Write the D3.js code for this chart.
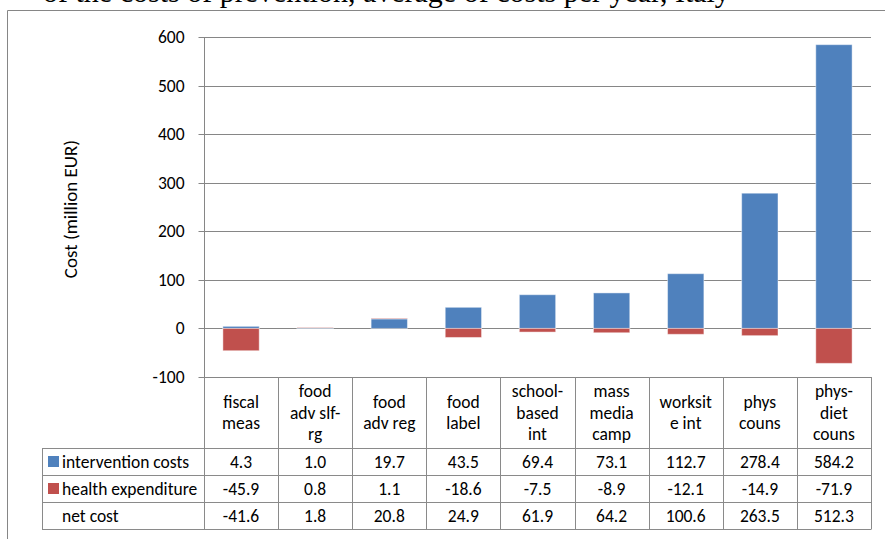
<!DOCTYPE html>
<html>
<head>
<meta charset="utf-8">
<script src="https://cdn.jsdelivr.net/npm/d3@7"></script>
<style>
  html, body { margin: 0; padding: 0; background: #fff; }
  svg { display: block; }
</style>
</head>
<body>
<svg id="chart" width="885" height="539"></svg>
<script>
// Interventions (header cells are split over several lines)
const categoryLines = [
  ["fiscal", "meas"],
  ["food", "adv slf-", "rg"],
  ["food", "adv reg"],
  ["food", "label"],
  ["school-", "based", "int"],
  ["mass", "media", "camp"],
  ["worksit", "e int"],
  ["phys", "couns"],
  ["phys-", "diet", "couns"]
];
const categories = categoryLines.map(l => l.join(" "));

// Average annual costs, million EUR
const interventionCosts = [4.3, 1.0, 19.7, 43.5, 69.4, 73.1, 112.7, 278.4, 584.2];
const healthExpenditure = [-45.9, 0.8, 1.1, -18.6, -7.5, -8.9, -12.1, -14.9, -71.9];
const netCost = [-41.6, 1.8, 20.8, 24.9, 61.9, 64.2, 100.6, 263.5, 512.3];

const seriesNames = ["intervention costs", "health expenditure", "net cost"];
const seriesColors = ["#4F81BD", "#C0504D", null];
const yTicks = [-100, 0, 100, 200, 300, 400, 500, 600];

const titleText = "of the costs of prevention, average of costs per year, Italy";
const yTitle = "Cost (million EUR)";

const FONT = "Carlito, Calibri, Lato, sans-serif";
const FS = 17.5;
const GRID = "#868686";
const BORDER = "#8a8a8a";

// plain hyphen for negative numbers
const locale = d3.formatLocale({ decimal: ".", thousands: ",", grouping: [3], currency: ["", ""], minus: "-" });
const fmtInt = locale.format("d");
const fmt1 = locale.format(".1f");

const svg = d3.select("#chart");

// plot geometry
const plotLeft = 204, plotRight = 871, plotTop = 37, plotBottom = 377;
const legendLeft = 42;
const headerBottom = 448, rowH = 27;

const x = d3.scaleBand().domain(categories).range([plotLeft, plotRight]).paddingInner(0).paddingOuter(0);
const y = d3.scaleLinear().domain([-100, 600]).range([plotBottom, plotTop]);

// outer frame
svg.append("path")
  .attr("d", `M7.5,539 V10.5 H885`)
  .attr("fill", "none").attr("stroke", GRID).attr("stroke-width", 1);

// title (runs off the top edge)
svg.append("text")
  .attr("x", 43).attr("y", 2)
  .attr("font-family", "'Liberation Serif', 'Times New Roman', serif")
  .attr("font-size", 30).attr("fill", "#000")
  .text(titleText);

// y axis ticks and labels
const yAxis = d3.axisLeft(y).tickValues(yTicks).tickSize(6).tickPadding(14).tickFormat(fmtInt);
const gAxis = svg.append("g").attr("transform", `translate(${plotLeft + 0.5},0)`).call(yAxis);
gAxis.select(".domain").remove();
gAxis.selectAll(".tick line").attr("stroke", GRID).attr("x1", -6).attr("x2", 0);
gAxis.selectAll(".tick text")
  .attr("font-family", FONT).attr("font-size", FS).attr("fill", "#000");
gAxis.selectAll(".tick").attr("transform", d => `translate(0,${Math.round(y(d)) + 0.5})`);

// gridlines
svg.append("g").selectAll("line").data(yTicks).join("line")
  .attr("x1", plotLeft).attr("x2", plotRight)
  .attr("y1", d => Math.round(y(d)) + 0.5).attr("y2", d => Math.round(y(d)) + 0.5)
  .attr("stroke", GRID).attr("stroke-width", 1);

// y axis line
svg.append("line")
  .attr("x1", plotLeft + 0.5).attr("x2", plotLeft + 0.5)
  .attr("y1", y(600)).attr("y2", plotBottom)
  .attr("stroke", GRID);

// axis title
svg.append("text")
  .attr("transform", `translate(77,209) rotate(-90)`)
  .attr("text-anchor", "middle")
  .attr("font-family", FONT).attr("font-size", 19).attr("fill", "#000")
  .text(yTitle);

// stacked bars: positive parts stack upward, negative parts downward
const rows = categories.map((c, i) => ({ cat: c, intervention: interventionCosts[i], health: healthExpenditure[i] }));
const stack = d3.stack().keys(["intervention", "health"]).offset(d3.stackOffsetDiverging);
const layers = stack(rows);
const barW = x.bandwidth() * 0.49;

svg.append("g").selectAll("g").data(layers).join("g")
  .attr("fill", (d, i) => seriesColors[i])
  .selectAll("rect").data(d => d).join("rect")
  .attr("x", d => x(d.data.cat) + (x.bandwidth() - barW) / 2)
  .attr("width", barW)
  .attr("y", d => y(Math.max(d[0], d[1])))
  .attr("height", d => Math.abs(y(d[0]) - y(d[1])))
  .attr("stroke", "rgba(255,255,255,0.45)")
  .attr("stroke-width", 1);

// data table
const table = svg.append("g");
const tableBottom = headerBottom + rowH * 3;

// horizontal rules
[0, 1, 2, 3].forEach(k => {
  table.append("line").attr("x1", legendLeft).attr("x2", plotRight)
    .attr("y1", headerBottom + rowH * k + 0.5).attr("y2", headerBottom + rowH * k + 0.5)
    .attr("stroke", BORDER);
});
// vertical rules
table.append("line").attr("x1", legendLeft + 0.5).attr("x2", legendLeft + 0.5)
  .attr("y1", headerBottom).attr("y2", tableBottom + 0.5).attr("stroke", BORDER);
const bounds = categories.map(c => x(c)).concat([plotRight]);
table.selectAll("line.v").data(bounds).join("line")
  .attr("class", "v")
  .attr("x1", d => Math.round(d) + 0.5).attr("x2", d => Math.round(d) + 0.5)
  .attr("y1", plotBottom).attr("y2", tableBottom + 0.5)
  .attr("stroke", BORDER);

// header labels
const lineH = 21.5;
const headerMid = (plotBottom + headerBottom) / 2;
categoryLines.forEach((lines, i) => {
  const t = table.append("text")
    .attr("text-anchor", "middle")
    .attr("font-family", FONT).attr("font-size", FS).attr("fill", "#000");
  const y0 = headerMid - (lines.length - 1) * lineH / 2 + 6;
  lines.forEach((ln, j) => {
    t.append("tspan").attr("x", x(categories[i]) + x.bandwidth() / 2)
      .attr("y", y0 + j * lineH).text(ln);
  });
});

// legend cells and values
const seriesValues = [interventionCosts, healthExpenditure, netCost];
seriesValues.forEach((vals, r) => {
  const cy = headerBottom + rowH * r + rowH / 2;
  if (seriesColors[r]) {
    table.append("rect").attr("x", 48).attr("y", cy - 5.5).attr("width", 11).attr("height", 11)
      .attr("fill", seriesColors[r]);
  }
  table.append("text")
    .attr("x", 62).attr("y", cy + 6)
    .attr("font-family", FONT).attr("font-size", FS).attr("fill", "#000")
    .text(seriesNames[r]);
  table.selectAll(null).data(vals).join("text")
    .attr("x", (d, i) => x(categories[i]) + x.bandwidth() / 2)
    .attr("y", cy + 6)
    .attr("text-anchor", "middle")
    .attr("font-family", FONT).attr("font-size", FS).attr("fill", "#000")
    .text(d => fmt1(d));
});
</script>
</body>
</html>
